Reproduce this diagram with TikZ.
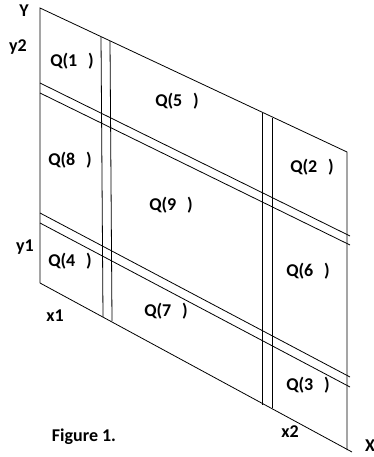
\documentclass[tikz,border=0pt]{standalone}
\usepackage{fontspec}
\setmainfont{Carlito}
\usetikzlibrary{calc}

\begin{document}
\begin{tikzpicture}[x=1pt, y=-1pt, line width=0.8pt,
  lbl/.style={font=\fontsize{18}{20}\selectfont\bfseries, inner sep=0pt}]
\useasboundingbox (0,0) rectangle (374,457);

% corners of the plate
\coordinate (O) at (40,283);
\coordinate (Y) at (40,8);
\coordinate (C) at (347,152);
\coordinate (D) at (347,450);
\coordinate (X) at (352,452);

\draw (O) -- (Y) -- (C) -- (D);
\draw (O) -- (X);

% cuts at x1 and x2
\draw (101,37) -- (103,317);
\draw (110,41) -- (112,321);
\draw (262,113) -- (262,405);
\draw (272,118) -- (272,408);

% cuts at y1 and y2
\draw (40,83) -- (350,236);
\draw (40,93) -- (350,245);
\draw (40,213) -- (350,377);
\draw (40,223) -- (350,387);

% axis labels
\node[lbl] (ylab) at (24,11) {Y};
\node[lbl] (xlab) at (370,446) {X};
\node[lbl] (y2) at (18,47) {y2};
\node[lbl] (y1) at (25,247) {y1};
\node[lbl] (x1) at (55,316) {x1};
\node[lbl] (x2) at (290,432) {x2};

% regions
\node[lbl] (q1) at (72,61) {Q(1\hspace{0.6em})};
\node[lbl] (q5) at (177,101) {Q(5\hspace{0.6em})};
\node[lbl] (q8) at (70,160) {Q(8\hspace{0.6em})};
\node[lbl] (q2) at (312,167) {Q(2\hspace{0.6em})};
\node[lbl] (q9) at (171,205) {Q(9\hspace{0.6em})};
\node[lbl] (q4) at (70,261) {Q(4\hspace{0.6em})};
\node[lbl] (q6) at (308,271) {Q(6\hspace{0.6em})};
\node[lbl] (q7) at (166,311) {Q(7\hspace{0.6em})};
\node[lbl] (q3) at (308,385) {Q(3\hspace{0.6em})};

\node[lbl] (fig) at (84,437) {Figure 1.};
\end{tikzpicture}
\end{document}
